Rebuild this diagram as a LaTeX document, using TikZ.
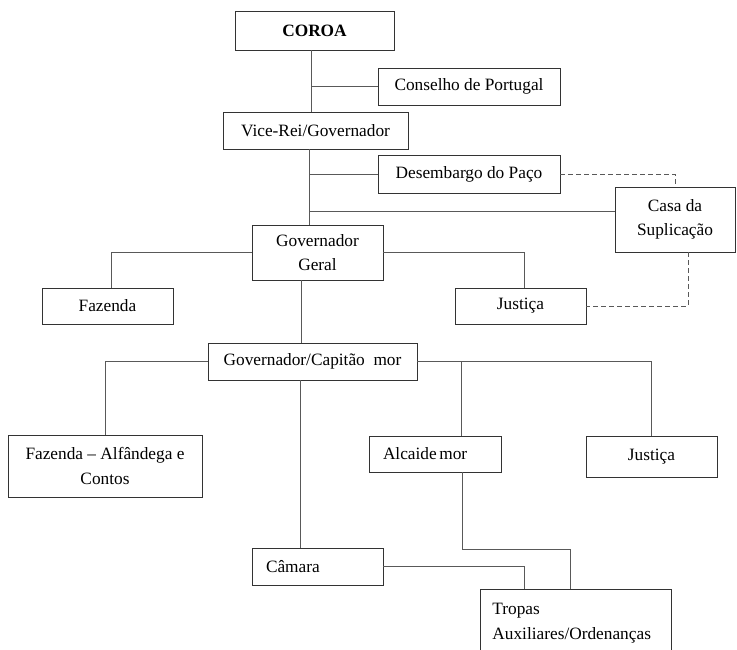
\documentclass[tikz,border=0pt]{standalone}
\usepackage{fontspec}
\setmainfont{Liberation Serif}
\begin{document}
\begin{tikzpicture}[x=1pt,y=-1pt,
  box/.style={draw=black!80, line width=0.9pt, inner sep=0pt, align=center, font=\fontsize{17.3}{24.5}\selectfont},
  lbox/.style={box, align=left, inner xsep=14pt},
  conn/.style={draw=black!65, line width=0.9pt},
  dconn/.style={conn, dash pattern=on 5pt off 3pt}]
\useasboundingbox (0,0) rectangle (737,649);
\clip (0,0) rectangle (737,649);
% boxes
\node[box, minimum width=159pt, minimum height=39pt] (coroa) at (314.5,30.5) {\textbf{COROA}};
\node[box, minimum width=182pt, minimum height=37pt] (conselho) at (469,86.5) {Conselho de Portugal};
\node[box, minimum width=185pt, minimum height=37pt] (vice) at (315.5,130.5) {Vice-Rei/Governador};
\node[box, minimum width=182pt, minimum height=38pt] (desemb) at (469,174) {Desembargo do Paço};
\node[box, minimum width=120pt, minimum height=65pt] (casa) at (675,219.5) {Casa da\\Suplicação};
\node[box, minimum width=131pt, minimum height=55pt] (govgeral) at (317.5,252.5) {Governador\\Geral};
\node[box, minimum width=131pt, minimum height=36pt] (fazenda) at (107.5,306) {Fazenda};
\node[box, minimum width=131pt, minimum height=36pt] (justica1) at (520.5,306) {Justiça};
\node[box, minimum width=209pt, minimum height=37pt] (govcap) at (312.5,361.5) {Governador/Capitão\ \ mor};
\node[box, minimum width=194pt, minimum height=62pt] (fazalf) at (105,466) {Fazenda – Alfândega e\\Contos};
\node[lbox, text width=104pt, minimum height=36pt] (alcaide) at (435,454) {Alcaide\hspace{0.15em}mor};
\node[box, minimum width=131pt, minimum height=41pt] (justica2) at (651.5,456.5) {Justiça};
\node[lbox, text width=103pt, minimum height=37pt] (camara) at (317.5,566.5) {Câmara};
\node[box, anchor=north west, align=left, inner xsep=12pt, inner ysep=14pt, text width=167pt] (tropas) at (480,589) {Tropas\\Auxiliares/Ordenanças\\ \mbox{}};
% helper coordinates
\coordinate (v1) at (311,0);
\coordinate (v2) at (309,0);
\coordinate (v3) at (301,0);
\coordinate (v4) at (300,0);
\coordinate (v5) at (461,0);
\coordinate (v6) at (462,0);
\coordinate (v7) at (570,0);
\coordinate (v8) at (524,0);
\coordinate (v9) at (688,0);
\coordinate (v10) at (111,0);
\coordinate (h1) at (0,211);
\coordinate (h2) at (0,549);
% connectors
\draw[conn] (coroa.south -| v1) -- (vice.north -| v1);
\draw[conn] (conselho.west) -- (conselho.west -| v1);
\draw[conn] (vice.south -| v2) -- (govgeral.north -| v2);
\draw[conn] (desemb.west) -- (desemb.west -| v2);
\draw[conn] (casa.west |- h1) -- (v2 |- h1);
\draw[dconn] (desemb.east) -| (casa.north);
\draw[dconn] (casa.south -| v9) |- (justica1.east);
\draw[conn] (govgeral.west) -| (fazenda.north -| v10);
\draw[conn] (govgeral.east) -| (justica1.north -| v8);
\draw[conn] (govgeral.south -| v3) -- (govcap.north -| v3);
\draw[conn] (govcap.west) -| (fazalf.north);
\draw[conn] (govcap.east) -| (justica2.north);
\draw[conn] (govcap.east -| v5) -- (alcaide.north -| v5);
\draw[conn] (govcap.south -| v4) -- (camara.north -| v4);
\draw[conn] (alcaide.south -| v6) -- (v6 |- h2) -| (tropas.north -| v7);
\draw[conn] (camara.east) -| (tropas.north -| v8);
\end{tikzpicture}
\end{document}
